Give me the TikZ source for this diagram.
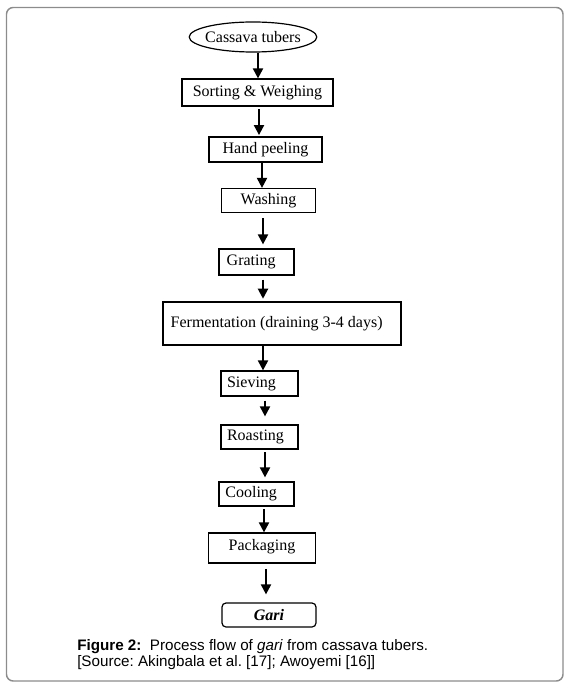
\documentclass[tikz,border=0pt]{standalone}
\usepackage{fontspec}
\setmainfont{Liberation Serif}
\newfontfamily\capfont{Liberation Sans}
\usetikzlibrary{shapes.geometric,arrows.meta}
\frenchspacing
\begin{document}
\begin{tikzpicture}[x=0.75pt,y=-0.75pt,
  box/.style={draw,line width=0.9pt,inner sep=0pt,font=\fontsize{12}{14}\selectfont},
  arr/.style={line width=1.5pt,-{Triangle[length=7.5pt,width=7.5pt]}},
  frame/.style={draw=black!45,line width=1.1pt,rounded corners=5pt}]
\useasboundingbox (0,0) rectangle (569,688);
\draw[frame] (6.5,7.5) rectangle (563,681);
\node[box,ellipse,inner xsep=-2pt,minimum width=94.5pt,minimum height=22.5pt] (cas) at (253,37) {Cassava tubers};
\node[box,minimum width=113.25pt,minimum height=20.25pt] (sort) at (257.5,92.5) {Sorting \& Weighing};
\node[box,minimum width=84.75pt,minimum height=18.75pt] (peel) at (265.5,149.5) {Hand peeling};
\node[box,minimum width=71pt,minimum height=18pt] (wash) at (268.5,200.5) {Washing};
\node[box,minimum width=56.25pt,minimum height=19.5pt] (grat) at (256.5,262) {\raisebox{3pt}{Grating\hspace{8pt}}};
\node[box,minimum width=178.5pt,minimum height=32.25pt] (ferm) at (282,323.5) {\hspace{-8pt}Fermentation (draining 3-4 days)};
\node[box,minimum width=57.75pt,minimum height=18.75pt] (siev) at (259.5,383.5) {\raisebox{1pt}{Sieving\hspace{12pt}}};
\node[box,minimum width=57.75pt,minimum height=18pt] (roast) at (259.5,437) {\raisebox{1pt}{Roasting\hspace{6pt}}};
\node[box,minimum width=56.25pt,minimum height=18pt] (cool) at (256.5,494) {\raisebox{3pt}{Cooling\hspace{8pt}}};
\node[box,minimum width=80pt,minimum height=22.5pt] (pack) at (262,548) {\raisebox{5pt}{Packaging}};
\node[box,rounded corners=3pt,minimum width=70.5pt,minimum height=18pt,font=\fontsize{12}{14}\selectfont\bfseries\itshape] (gari) at (269,615) {Gari};
\draw[arr] (cas.south -| 258,0) -- (sort.north -| 258,0);
\draw[arr] ([yshift=-2pt]sort.south -| 259,0) -- ([yshift=1pt]peel.north -| 259,0);
\draw[arr] (peel.south -| 262,0) -- (wash.north -| 262,0);
\draw[arr] ([yshift=-4pt]wash.south -| 263,0) -- ([yshift=3pt]grat.north -| 263,0);
\draw[arr] ([yshift=-3pt]grat.south -| 263,0) -- ([yshift=2pt]ferm.north -| 263,0);
\draw[arr] (ferm.south -| 263,0) -- (siev.north -| 263,0);
\draw[arr] ([yshift=-3pt]siev.south -| 265,0) -- ([yshift=6pt]roast.north -| 265,0);
\draw[arr] ([yshift=-2pt]roast.south -| 265,0) -- ([yshift=3pt]cool.north -| 265,0);
\draw[arr] ([yshift=-2pt]cool.south -| 264,0) -- (pack.north -| 264,0);
\draw[arr] ([yshift=-4pt]pack.south -| 266,0) -- ([yshift=6pt]gari.north -| 266,0);
\node[anchor=north west,align=left,inner sep=0pt,font=\capfont\fontsize{11.4}{12}\selectfont] (cap) at (77,639)
  {\textbf{Figure 2:}\ \ Process flow of \textit{gari} from cassava tubers.\\{}[Source: Akingbala et al. [17]; Awoyemi [16]]};
\end{tikzpicture}
\end{document}
